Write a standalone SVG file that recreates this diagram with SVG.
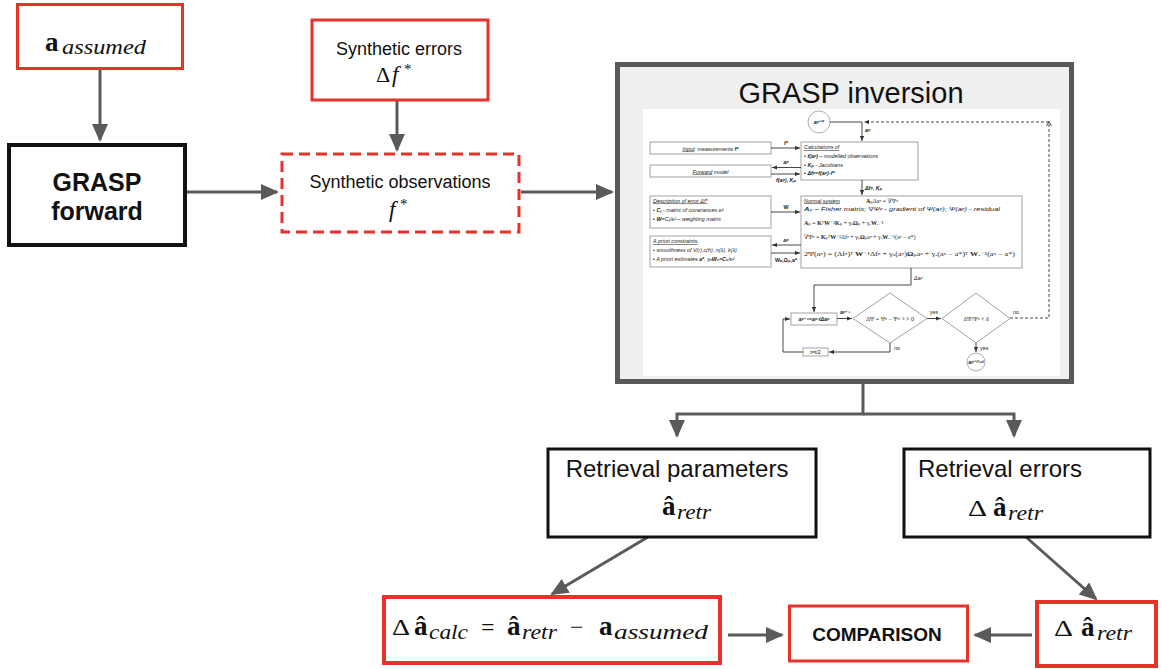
<svg xmlns="http://www.w3.org/2000/svg" width="1161" height="669" viewBox="0 0 1161 669">
<defs>
<style>
.red{fill:#fff;stroke:#e5322a;stroke-width:3}
.redk{fill:#fff;stroke:#e5322a;stroke-width:4}
.blk{fill:#fff;stroke:#111;stroke-width:3}
.conn{stroke:#5a5a5a;stroke-width:3;fill:none}
.sans{font-family:"Liberation Sans",Arial,sans-serif;fill:#111}
.bold{font-family:"Liberation Sans",Arial,sans-serif;font-weight:bold;fill:#111}
.m{font-family:"Liberation Serif","Times New Roman",serif;fill:#111}
.mb{font-family:"Liberation Serif","Times New Roman",serif;font-weight:bold;fill:#111}
.mi{font-family:"Liberation Serif","Times New Roman",serif;font-style:italic;fill:#111}
.ib{fill:#fff;stroke:#8c8c8c;stroke-width:0.8}
.it{font-family:"Liberation Sans","DejaVu Sans",sans-serif;font-size:5.4px;fill:#222}
.iti{font-family:"Liberation Sans","DejaVu Sans",sans-serif;font-size:5.4px;font-style:italic;fill:#222}
.ie{font-family:"Liberation Serif","DejaVu Serif",serif;font-size:6px;fill:#222}
.il{stroke:#333;stroke-width:0.9;fill:none}
.ild{stroke:#333;stroke-width:0.9;fill:none;stroke-dasharray:3 2}
</style>
<marker id="ah" viewBox="0 0 18 18" refX="16" refY="9" markerWidth="18" markerHeight="18" markerUnits="userSpaceOnUse" orient="auto">
<path d="M0,1 L18,9 L0,17 z" fill="#5a5a5a"/>
</marker>
<marker id="sa" viewBox="0 0 6 6" refX="6" refY="3" markerWidth="5" markerHeight="5" markerUnits="userSpaceOnUse" orient="auto">
<path d="M0,0.5 L6,3 L0,5.5 z" fill="#333"/>
</marker>
</defs>
<rect width="1161" height="669" fill="#fff"/>

<g id="connectors">
<path class="conn" d="M100,69 V140" marker-end="url(#ah)"/>
<path class="conn" d="M397,100 V150" marker-end="url(#ah)"/>
<path class="conn" d="M187,192 H277" marker-end="url(#ah)"/>
<path class="conn" d="M521,192 H612" marker-end="url(#ah)"/>
<path class="conn" d="M863,384 V414 H677 V436" marker-end="url(#ah)"/>
<path class="conn" d="M863,414 H1014 V436" marker-end="url(#ah)"/>
<path class="conn" d="M648,537 L552,594" marker-end="url(#ah)"/>
<path class="conn" d="M1026,537 L1096,599" marker-end="url(#ah)"/>
<path class="conn" d="M728,635 H782" marker-end="url(#ah)"/>
<path class="conn" d="M1032,635 H975" marker-end="url(#ah)"/>
</g>

<g id="a-assumed">
<rect class="red" x="17.5" y="4.5" width="165" height="64"/>
<text class="mb" x="45" y="51" font-size="27">a</text>
<text class="mi" x="62" y="54" font-size="20" textLength="84" lengthAdjust="spacingAndGlyphs">assumed</text>
</g>

<g id="grasp-forward">
<rect x="9" y="145" width="176" height="100" fill="#fff" stroke="#111" stroke-width="4"/>
<text class="bold" x="97" y="191" font-size="25" text-anchor="middle">GRASP</text>
<text class="bold" x="97" y="220" font-size="25" text-anchor="middle">forward</text>
</g>

<g id="synthetic-errors">
<rect class="red" x="312" y="20" width="176" height="80"/>
<text class="sans" x="399" y="55" font-size="18" text-anchor="middle">Synthetic errors</text>
<text class="m" x="376" y="82" font-size="22">Δ</text>
<text class="mi" x="392" y="82" font-size="23">f</text>
<text class="m" x="404" y="74" font-size="15">*</text>
</g>

<g id="synthetic-observations">
<rect x="282" y="154" width="237" height="78" fill="#fff" stroke="#e5322a" stroke-width="3" stroke-dasharray="11 6"/>
<text class="sans" x="400" y="188" font-size="18" text-anchor="middle">Synthetic observations</text>
<text class="mi" x="389" y="217" font-size="23">f</text>
<text class="m" x="400" y="209" font-size="15">*</text>
</g>

<g id="grasp-inversion">
<rect x="617.5" y="64.5" width="454" height="317" fill="#efefef" stroke="#595959" stroke-width="5"/>
<text class="sans" x="851" y="103" font-size="29" text-anchor="middle">GRASP inversion</text>
<rect x="643" y="109" width="417" height="267" fill="#fff"/>
<g id="inversion-flowchart">
<circle cx="819" cy="122" r="11" fill="#fff" stroke="#999" stroke-width="0.8"/>
<text class="iti" x="819" y="124" text-anchor="middle" font-weight="bold" font-size="5">aᵖ⁼⁰</text>
<path class="il" d="M830,122 H862"/>
<path class="ild" d="M1010,318 H1049 V122 H864" marker-end="url(#sa)"/>
<path class="il" d="M1046.5,126 L1049,121.5 L1051.5,126"/>
<path class="il" d="M862,122 V141" marker-end="url(#sa)"/>
<text class="iti" x="865" y="132" font-weight="bold">aᵖ</text>

<rect class="ib" x="650" y="142" width="121" height="12"/>
<text class="it" x="710.5" y="150.5" text-anchor="middle"><tspan text-decoration="underline" font-style="italic">Input</tspan>: measurements <tspan font-weight="bold">f*</tspan></text>
<rect class="ib" x="650" y="165" width="121" height="12"/>
<text class="iti" x="710.5" y="173.5" text-anchor="middle"><tspan text-decoration="underline">Forward</tspan> model</text>

<rect class="ib" x="801" y="142" width="117" height="38"/>
<text class="iti" x="804" y="149" text-decoration="underline">Calculations of</text>
<text class="iti" x="804" y="158">•  <tspan font-weight="bold">f(aᵖ)</tspan> – modelled observations</text>
<text class="iti" x="804" y="166.5">•  <tspan font-weight="bold">Kₚ</tspan> -  Jacobians</text>
<text class="iti" x="804" y="175">•  <tspan font-weight="bold">Δfᵖ=f(aᵖ)-f*</tspan></text>

<path class="il" d="M771,148 H800" marker-end="url(#sa)"/>
<text class="iti" x="786" y="145" text-anchor="middle" font-weight="bold">f*</text>
<path class="il" d="M801,167.5 H772" marker-end="url(#sa)"/>
<text class="iti" x="786" y="164" text-anchor="middle" font-weight="bold">aᵖ</text>
<path class="il" d="M771,174 H800" marker-end="url(#sa)"/>
<text class="iti" x="786" y="182" text-anchor="middle" font-weight="bold">f(aᵖ), Kₚ</text>
<path class="il" d="M862,180 V195" marker-end="url(#sa)"/>
<text class="iti" x="865" y="190" font-weight="bold">Δfᵖ, Kₚ</text>

<rect class="ib" x="650" y="196" width="121" height="32"/>
<text class="iti" x="653" y="202.5" text-decoration="underline">Description of error Δf*</text>
<text class="iti" x="653" y="211.5">•  <tspan font-weight="bold">C</tspan><tspan font-size="4" dy="1">f</tspan><tspan dy="-1"> - matrix of covariances εᵢ²</tspan></text>
<text class="iti" x="653" y="220.5">•  <tspan font-weight="bold">W</tspan>=C<tspan font-size="4" dy="1">f</tspan><tspan dy="-1">/εᵢ² – weighting matrix</tspan></text>
<path class="il" d="M771,212 H800" marker-end="url(#sa)"/>
<text class="it" x="786" y="209" text-anchor="middle" font-weight="bold">W</text>

<rect class="ib" x="801" y="196" width="221" height="72"/>
<text class="iti" x="804" y="202.5" text-decoration="underline">Normal system</text>
<text class="ie" x="866" y="202.5"><tspan font-weight="bold">A</tspan>ₚΔaᵖ = ∇Ψᵖ</text>
<text class="iti" x="804" y="211" textLength="196" lengthAdjust="spacingAndGlyphs"><tspan font-weight="bold">A</tspan>ₚ – Fisher matrix; ∇Ψᵖ - gradient of Ψ(aᵖ); Ψ(aᵖ) - residual</text>
<text class="ie" x="804" y="225"><tspan font-weight="bold">A</tspan>ₚ = <tspan font-weight="bold">K</tspan>ᵀ<tspan font-weight="bold">W</tspan>⁻¹<tspan font-weight="bold">K</tspan>ₚ + γₛ<tspan font-weight="bold">Ω</tspan>ₚ + γₐ<tspan font-weight="bold">W</tspan>ₐ⁻¹</text>
<text class="ie" x="804" y="239">∇Ψᵖ = <tspan font-weight="bold">K</tspan>ₚᵀ<tspan font-weight="bold">W</tspan>⁻¹Δfᵖ + γₛ<tspan font-weight="bold">Ω</tspan>ₚaᵖ + γₐ<tspan font-weight="bold">W</tspan>ₐ⁻¹(aᵖ − a*)</text>
<text class="ie" x="804" y="256" textLength="211" lengthAdjust="spacingAndGlyphs">2Ψ(aᵖ) = (Δfᵖ)ᵀ <tspan font-weight="bold">W</tspan>⁻¹Δfᵖ + γₛ(aᵖ)<tspan font-weight="bold">Ω</tspan>ₚaᵖ + γₐ(aᵖ − a*)ᵀ <tspan font-weight="bold">W</tspan>ₐ⁻¹(aᵖ − a*)</text>

<rect class="ib" x="650" y="236" width="121" height="31"/>
<text class="iti" x="653" y="243" text-decoration="underline">A priori constraints</text>
<text class="iti" x="653" y="252">•  smoothness of V(r),c(h), n(λ), k(λ)</text>
<text class="iti" x="653" y="261">•  A priori estimates <tspan font-weight="bold">a*</tspan>, γₐ<tspan font-weight="bold">W</tspan>ₐ=<tspan font-weight="bold">C</tspan>ₐ/εᵢ²</text>
<path class="il" d="M801,245 H772" marker-end="url(#sa)"/>
<text class="iti" x="786" y="242" text-anchor="middle" font-weight="bold">aᵖ</text>
<path class="il" d="M771,253 H800" marker-end="url(#sa)"/>
<text class="it" x="786" y="262" text-anchor="middle" font-weight="bold">Wₐ,Ωₚ,a*</text>

<path class="il" d="M911,268 V285 H814 V312" marker-end="url(#sa)"/>
<text class="iti" x="914" y="280">Δaᵖ</text>
<rect class="ib" x="791" y="313" width="46" height="12"/>
<text class="iti" x="814" y="321" text-anchor="middle" font-weight="bold" font-size="5">aᵖ⁺¹=aᵖ-tΔaᵖ</text>
<path class="il" d="M837,318.5 H852" marker-end="url(#sa)"/>
<text class="iti" x="845" y="314" text-anchor="middle" font-weight="bold">aᵖ⁺¹</text>
<polygon class="ib" points="853,318.5 890,293 927,318.5 890,343"/>
<text class="ie" x="890" y="320.5" text-anchor="middle" font-size="5.6">ΔΨ = Ψᵖ − Ψᵖ⁻¹ &gt; 0</text>
<path class="il" d="M927,318.5 H941" marker-end="url(#sa)"/>
<text class="it" x="934" y="314" text-anchor="middle">yes</text>
<polygon class="ib" points="942,318.5 976,293 1010,318.5 976,343"/>
<text class="ie" x="976" y="320.5" text-anchor="middle" font-size="5.6">ΔΨ/Ψᵖ &lt; δ</text>
<text class="it" x="1013" y="314">no</text>
<path class="il" d="M976,343 V352" marker-end="url(#sa)"/>
<text class="it" x="980" y="350">yes</text>
<circle cx="976" cy="362" r="9" fill="#fff" stroke="#999" stroke-width="0.8"/>
<text class="iti" x="976" y="364" text-anchor="middle" font-weight="bold" font-size="4.4">aᵖ⁼ᶠⁱⁿᵃˡ</text>
<path class="il" d="M890,343 V352 H829" marker-end="url(#sa)"/>
<text class="it" x="894" y="350">no</text>
<rect class="ib" x="803" y="348" width="25" height="8"/>
<text class="it" x="815.5" y="354" text-anchor="middle">t=t/2</text>
<path class="il" d="M803,352 H783 V319 H790" marker-end="url(#sa)"/>
</g>
</g>

<g id="retrieval-parameters">
<rect class="blk" x="548" y="449" width="268" height="88"/>
<text class="sans" x="677" y="477" font-size="24" text-anchor="middle">Retrieval parameters</text>
<text class="mb" x="662" y="515" font-size="27">â</text>
<text class="mi" x="677" y="519" font-size="20" textLength="34" lengthAdjust="spacingAndGlyphs">retr</text>
</g>

<g id="retrieval-errors">
<rect class="blk" x="904" y="449" width="246" height="88"/>
<text class="sans" x="918" y="477" font-size="24">Retrieval errors</text>
<text class="m" x="968" y="516" font-size="24" textLength="19" lengthAdjust="spacingAndGlyphs">Δ</text>
<text class="mb" x="993" y="516" font-size="27">â</text>
<text class="mi" x="1008" y="520" font-size="20" textLength="35" lengthAdjust="spacingAndGlyphs">retr</text>
</g>

<g id="delta-a-calc">
<rect class="redk" x="384" y="597" width="336" height="66"/>
<text class="m" x="392" y="635" font-size="24" textLength="18" lengthAdjust="spacingAndGlyphs">Δ</text>
<text class="mb" x="414" y="635" font-size="27">â</text>
<text class="mi" x="429" y="639" font-size="20" textLength="39" lengthAdjust="spacingAndGlyphs">calc</text>
<text class="m" x="481" y="635" font-size="24">=</text>
<text class="mb" x="507" y="635" font-size="27">â</text>
<text class="mi" x="522" y="639" font-size="20" textLength="35" lengthAdjust="spacingAndGlyphs">retr</text>
<text class="m" x="570" y="635" font-size="24">−</text>
<text class="mb" x="599" y="635" font-size="27">a</text>
<text class="mi" x="614" y="639" font-size="20" textLength="94" lengthAdjust="spacingAndGlyphs">assumed</text>
</g>

<g id="comparison">
<rect class="red" x="789.5" y="606" width="178" height="55"/>
<text class="sans" x="877" y="641" font-size="19" font-weight="bold" text-anchor="middle">COMPARISON</text>
</g>

<g id="delta-a-retr">
<rect class="redk" x="1037" y="602" width="119" height="64"/>
<text class="m" x="1054" y="636" font-size="24" textLength="19" lengthAdjust="spacingAndGlyphs">Δ</text>
<text class="mb" x="1081" y="636" font-size="27">â</text>
<text class="mi" x="1097" y="640" font-size="20" textLength="35" lengthAdjust="spacingAndGlyphs">retr</text>
</g>
</svg>
